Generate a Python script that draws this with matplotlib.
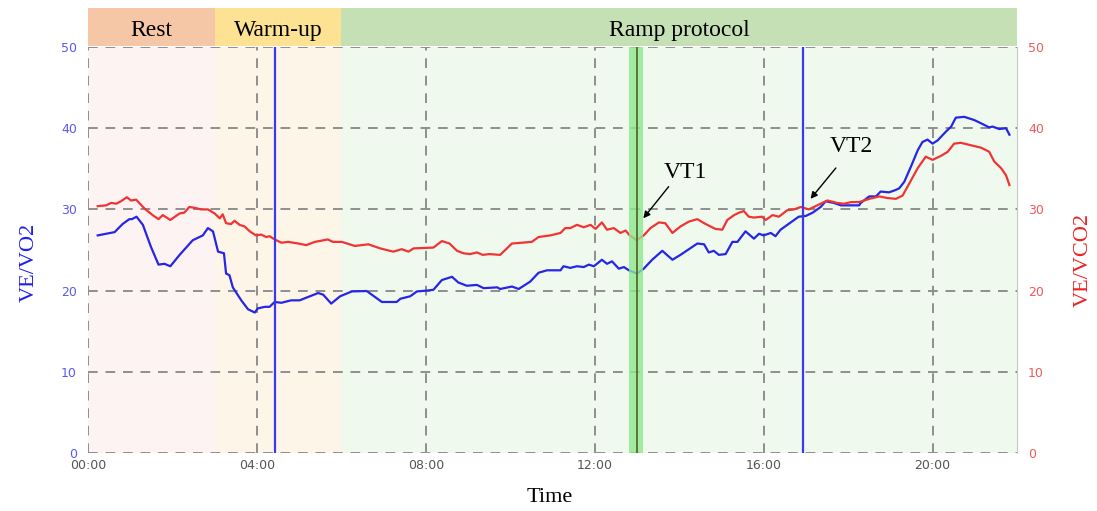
import matplotlib.pyplot as plt
from matplotlib.ticker import FuncFormatter

# time in minutes, ventilatory equivalents
t_vo2 = [0.23, 0.63, 0.82, 0.98, 1.04, 1.15, 1.30, 1.49, 1.67, 1.81, 1.95, 2.17,
         2.48, 2.72, 2.84, 2.96, 3.08, 3.22, 3.27, 3.35, 3.43, 3.63, 3.79, 3.95,
         4.02, 4.18, 4.30, 4.42, 4.58, 4.81, 5.01, 5.45, 5.57, 5.76, 5.97, 6.25,
         6.60, 6.96, 7.31, 7.40, 7.63, 7.79, 8.02, 8.18, 8.38, 8.62, 8.77, 8.97,
         9.21, 9.37, 9.69, 9.76, 10.04, 10.20, 10.47, 10.67, 10.87, 11.19, 11.26,
         11.42, 11.58, 11.74, 11.86, 11.98, 12.17, 12.29, 12.41, 12.57, 12.69,
         12.81, 13.00, 13.16, 13.36, 13.60, 13.84, 14.03, 14.23, 14.43, 14.59,
         14.70, 14.82, 14.94, 15.10, 15.26, 15.38, 15.57, 15.77, 15.89, 16.00,
         16.17, 16.28, 16.40, 16.56, 16.72, 16.83, 17.00, 17.16, 17.35, 17.47,
         17.66, 17.83, 18.07, 18.26, 18.30, 18.50, 18.66, 18.77, 18.97, 19.13,
         19.21, 19.33, 19.49, 19.65, 19.76, 19.88, 20.00, 20.12, 20.32, 20.44,
         20.55, 20.75, 20.99, 21.19, 21.34, 21.42, 21.58, 21.74, 21.82]
ve_vo2 = [26.8, 27.2, 28.2, 28.8, 28.8, 29.1, 28.1, 25.4, 23.2, 23.3, 23.0, 24.4,
          26.2, 26.8, 27.7, 27.3, 24.8, 24.6, 22.1, 21.9, 20.4, 18.8, 17.7, 17.3,
          17.8, 18.0, 18.0, 18.6, 18.5, 18.8, 18.8, 19.7, 19.5, 18.4, 19.3, 19.9,
          19.95, 18.6, 18.6, 19.0, 19.3, 19.9, 20.0, 20.1, 21.3, 21.7, 21.0, 20.6,
          20.7, 20.3, 20.4, 20.2, 20.5, 20.2, 21.1, 22.2, 22.5, 22.5, 23.0,
          22.8, 23.0, 22.9, 23.2, 23.0, 23.8, 23.3, 23.6, 22.7, 22.9,
          22.5, 22.1, 22.7, 23.8, 24.9, 23.8, 24.4, 25.1, 25.8, 25.7,
          24.7, 24.9, 24.4, 24.5, 26.0, 26.0, 27.3, 26.4, 27.0, 26.8,
          27.1, 26.7, 27.5, 28.1, 28.7, 29.1, 29.2, 29.6, 30.3, 31.0,
          30.8, 30.5, 30.5, 30.5, 30.8, 31.6, 31.6, 32.2, 32.1, 32.4,
          32.6, 33.4, 35.3, 37.3, 38.3, 38.6, 38.1, 38.5, 39.6, 40.2,
          41.3, 41.4, 41.0, 40.5, 40.1, 40.2, 39.9, 40.0, 39.2]

t_vco2 = [0.23, 0.43, 0.55, 0.67, 0.78, 0.92, 1.02, 1.14, 1.34, 1.53, 1.67, 1.77,
          1.95, 2.17, 2.28, 2.40, 2.52, 2.68, 2.84, 3.00, 3.12, 3.19, 3.27, 3.39,
          3.47, 3.59, 3.71, 3.83, 3.98, 4.10, 4.22, 4.30, 4.42, 4.58, 4.74, 4.98,
          5.17, 5.37, 5.68, 5.80, 6.01, 6.32, 6.64, 6.92, 7.23, 7.43, 7.59, 7.71,
          8.18, 8.38, 8.56, 8.74, 8.89, 9.05, 9.21, 9.35, 9.50, 9.76, 10.04, 10.28,
          10.51, 10.67, 10.95, 11.19, 11.30, 11.42, 11.58, 11.74, 11.90, 12.02,
          12.17, 12.29, 12.45, 12.61, 12.73, 12.81, 12.99, 13.16, 13.32, 13.52,
          13.67, 13.84, 14.03, 14.23, 14.43, 14.59, 14.74, 14.86, 15.02, 15.14,
          15.30, 15.42, 15.53, 15.65, 15.77, 15.96, 16.05, 16.21, 16.36, 16.56,
          16.72, 16.88, 17.07, 17.27, 17.51, 17.74, 17.90, 18.07, 18.26, 18.50,
          18.74, 18.93, 19.13, 19.29, 19.45, 19.65, 19.84, 20.00, 20.20, 20.36,
          20.51, 20.67, 20.91, 21.15, 21.34, 21.46, 21.62, 21.74, 21.82]
ve_vco2 = [30.4, 30.5, 30.8, 30.7, 31.0, 31.5, 31.1, 31.2, 30.1, 29.3, 28.8, 29.3,
           28.7, 29.5, 29.6, 30.3, 30.2, 30.0, 30.0, 29.5, 28.9, 29.4, 28.3, 28.2,
           28.6, 28.1, 27.9, 27.3, 26.8, 26.9, 26.6, 26.7, 26.3, 25.9, 26.0, 25.8,
           25.6, 26.0, 26.3, 26.0, 26.0, 25.5, 25.7, 25.2, 24.8, 25.1, 24.8, 25.2,
           25.3, 26.1, 25.8, 24.9, 24.6, 24.5, 24.7, 24.4, 24.5, 24.4, 25.8, 25.9,
           26.0, 26.6, 26.8, 27.1, 27.7, 27.7, 28.1, 27.8, 28.1, 27.6,
           28.4, 27.5, 27.7, 27.1, 27.4, 26.9, 26.2, 26.8, 27.7, 28.4,
           28.3, 27.1, 27.9, 28.5, 28.8, 28.3, 27.9, 27.6, 27.5, 28.7,
           29.3, 29.6, 29.8, 29.1, 29.0, 29.1, 28.7, 29.3, 29.1, 29.9,
           30.0, 30.3, 30.0, 30.5, 31.1, 30.8, 30.7, 30.9, 30.9, 31.3,
           31.6, 31.4, 31.3, 31.7, 33.2, 35.1, 36.5, 36.1, 36.6, 37.1,
           38.1, 38.2, 37.9, 37.6, 37.1, 35.9, 35.1, 34.2, 33.0]

# test phases (start, end in minutes)
phase_names = ["Rest", "Warm-up", "Ramp protocol"]
phase_start = [0, 3, 6]
phase_end = [3, 6, 22]
phase_colors = ["#f6c7a6", "#fde293", "#c6e0b5"]
phase_bg = ["#fdf3f2", "#fdf5e8", "#eff9ee"]

# markers
blue_marks = [4.42, 16.93]
vt1_time = 13.0
vt1_band = (12.82, 13.15)
vt1_value = 28.9
vt2_time = 17.11
vt2_value = 31.3


def mmss(x, pos):
    return f"{int(round(x)):02d}:00"


def main():
    fig = plt.figure(figsize=(10.97, 5.11), dpi=100)
    ax = fig.add_axes([0.0802, 0.1135, 0.8469, 0.7945])
    head = fig.add_axes([0.0802, 0.91, 0.8469, 0.0744])

    # phase header
    for name, s, e, c in zip(phase_names, phase_start, phase_end, phase_colors):
        head.axvspan(s, e, color=c, lw=0)
        head.text((s + e) / 2, 0.42, name, ha="center", va="center",
                  family="Liberation Serif", fontsize=17)
    head.set_xlim(0, 22)
    head.set_ylim(0, 1)
    head.axis("off")

    for s, e, c in zip(phase_start, phase_end, phase_bg):
        ax.axvspan(s, e, color=c, lw=0, zorder=0)

    ax.plot(t_vo2, ve_vo2, color="#2626e6", lw=1.6, zorder=3)
    ax.plot(t_vco2, ve_vco2, color="#f03434", lw=1.6, zorder=3)

    for m in blue_marks:
        ax.axvline(m, color="#3a3aea", lw=1.6, zorder=4)
    ax.axvspan(*vt1_band, color="#8ee88e", alpha=0.8, lw=0, zorder=4)
    ax.axvline(vt1_time, color="#4f5f25", lw=1.2, zorder=5)

    ax.set_xlim(0, 22)
    ax.set_ylim(0, 50)
    ax.set_xticks([0, 4, 8, 12, 16, 20])
    ax.set_yticks([0, 10, 20, 30, 40, 50])
    ax.xaxis.set_major_formatter(FuncFormatter(mmss))
    ax.grid(True, color="#8f8f8f", ls=(0, (5, 4)), lw=1.4, zorder=2)
    ax.set_axisbelow(False)
    for side in ["left", "bottom", "top"]:
        ax.spines[side].set_visible(False)
    ax.spines["right"].set_color("#c8c8c8")
    ax.tick_params(axis="x", length=0, pad=4, labelsize=9, labelcolor="#555555")
    ax.tick_params(axis="y", length=0, pad=8, labelsize=9, labelcolor="#5a5af0")

    ax2 = ax.twinx()
    ax2.set_ylim(0, 50)
    ax2.set_yticks([0, 10, 20, 30, 40, 50])
    ax2.tick_params(axis="y", length=0, pad=8, labelsize=9, labelcolor="#f05a5a")
    for side in ["left", "bottom", "top", "right"]:
        ax2.spines[side].set_visible(False)

    ax.set_ylabel("VE/VO2", color="#1f1fee", family="Liberation Serif", fontsize=16)
    ax.yaxis.set_label_coords(-0.053, 0.47)
    ax2.set_ylabel("VE/VCO2", color="#ee2222", family="Liberation Serif", fontsize=16)
    ax2.yaxis.set_label_coords(1.061, 0.475)
    ax.set_xlabel("Time", family="Liberation Serif", fontsize=16)
    ax.xaxis.set_label_coords(0.497, -0.085)

    arrow = dict(arrowstyle="-|>", color="black", lw=1, mutation_scale=10,
                 shrinkA=0, shrinkB=0)
    ax.annotate("", xy=(vt1_band[1], vt1_value), xytext=(13.75, 32.8),
                arrowprops=arrow, zorder=6)
    ax.text(14.15, 34.6, "VT1", ha="center", va="center",
            family="Liberation Serif", fontsize=17)
    ax.annotate("", xy=(vt2_time, vt2_value), xytext=(17.71, 35.1),
                arrowprops=arrow, zorder=6)
    ax.text(18.07, 37.7, "VT2", ha="center", va="center",
            family="Liberation Serif", fontsize=17)

    fig.savefig("out.png", dpi=100)


if __name__ == "__main__":
    main()
